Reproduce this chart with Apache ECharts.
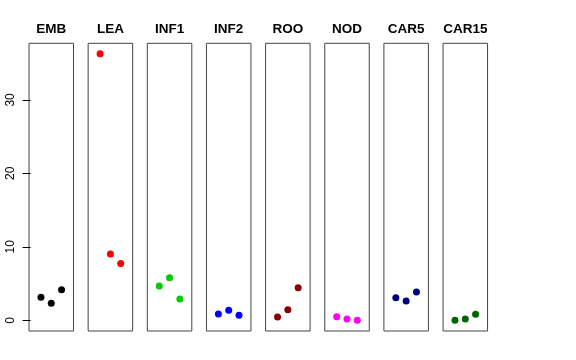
<!DOCTYPE html>
<html><head><meta charset="utf-8">
<script src="https://cdn.jsdelivr.net/npm/echarts@6/dist/echarts.min.js"></script>
<style>html,body{margin:0;padding:0;background:#fff}#c{width:576px;height:360px}</style>
</head><body><div id="c"></div>
<script>
const groups = ['EMB','LEA','INF1','INF2','ROO','NOD','CAR5','CAR15'];
const colors = ['#000000','#FF0000','#00CD00','#0000FF','#8B0000','#FF00FF','#000080','#006400'];
const xPos = [1, 2, 3];
const EMB = [3.13, 2.31, 4.17];
const LEA = [36.27, 9.02, 7.75];
const INF1 = [4.67, 5.80, 2.90];
const INF2 = [0.86, 1.36, 0.68];
const ROO = [0.45, 1.44, 4.44];
const NOD = [0.49, 0.18, 0.00];
const CAR5 = [3.07, 2.63, 3.85];
const CAR15 = [0.00, 0.18, 0.82];
const yTicks = [0, 10, 20, 30];
const values = [EMB, LEA, INF1, INF2, ROO, NOD, CAR5, CAR15];

const chart = echarts.init(document.getElementById('c'), null, {renderer:'canvas'});
const grids = [], xAxes = [], yAxes = [], series = [], titles = [];
const L0 = 29, STEP = 59.15, W = 44.5, TOP = 43.3, H = 287.7;
groups.forEach((g, i) => {
  const left = L0 + i * STEP;
  grids.push({left: left, top: TOP, width: W, height: H, show: true, borderColor: '#444', borderWidth: 1, backgroundColor: 'transparent'});
  xAxes.push({type: 'value', gridIndex: i, min: -0.16, max: 4.16, show: false});
  const first = i === 0;
  yAxes.push({
    type: 'value', gridIndex: i, min: -1.45, max: 37.7,
    show: first,
    splitLine: {show: false},
    axisLine: {show: false},
    axisTick: first ? {show: true, length: 8, customValues: yTicks, lineStyle: {color: '#000'}} : {show: false},
    axisLabel: first ? {show: true, rotate: 90, margin: 12, customValues: yTicks, fontSize: 12, color: '#000', fontFamily: 'Liberation Sans, Arial, sans-serif'} : {show: false}
  });
  series.push({
    type: 'scatter', name: g, xAxisIndex: i, yAxisIndex: i,
    symbol: 'circle', symbolSize: 7,
    itemStyle: {color: colors[i], opacity: 1},
    data: xPos.map((x, k) => [x, values[i][k]]),
    silent: true
  });
  titles.push({
    text: g, left: left + W / 2, top: 22, textAlign: 'center', padding: 0,
    textStyle: {fontSize: 13.5, fontWeight: 'bold', color: '#000', fontFamily: 'Liberation Sans, Arial, sans-serif'}
  });
});
chart.setOption({
  animation: false,
  title: titles,
  grid: grids, xAxis: xAxes, yAxis: yAxes, series: series
});
</script></body></html>
